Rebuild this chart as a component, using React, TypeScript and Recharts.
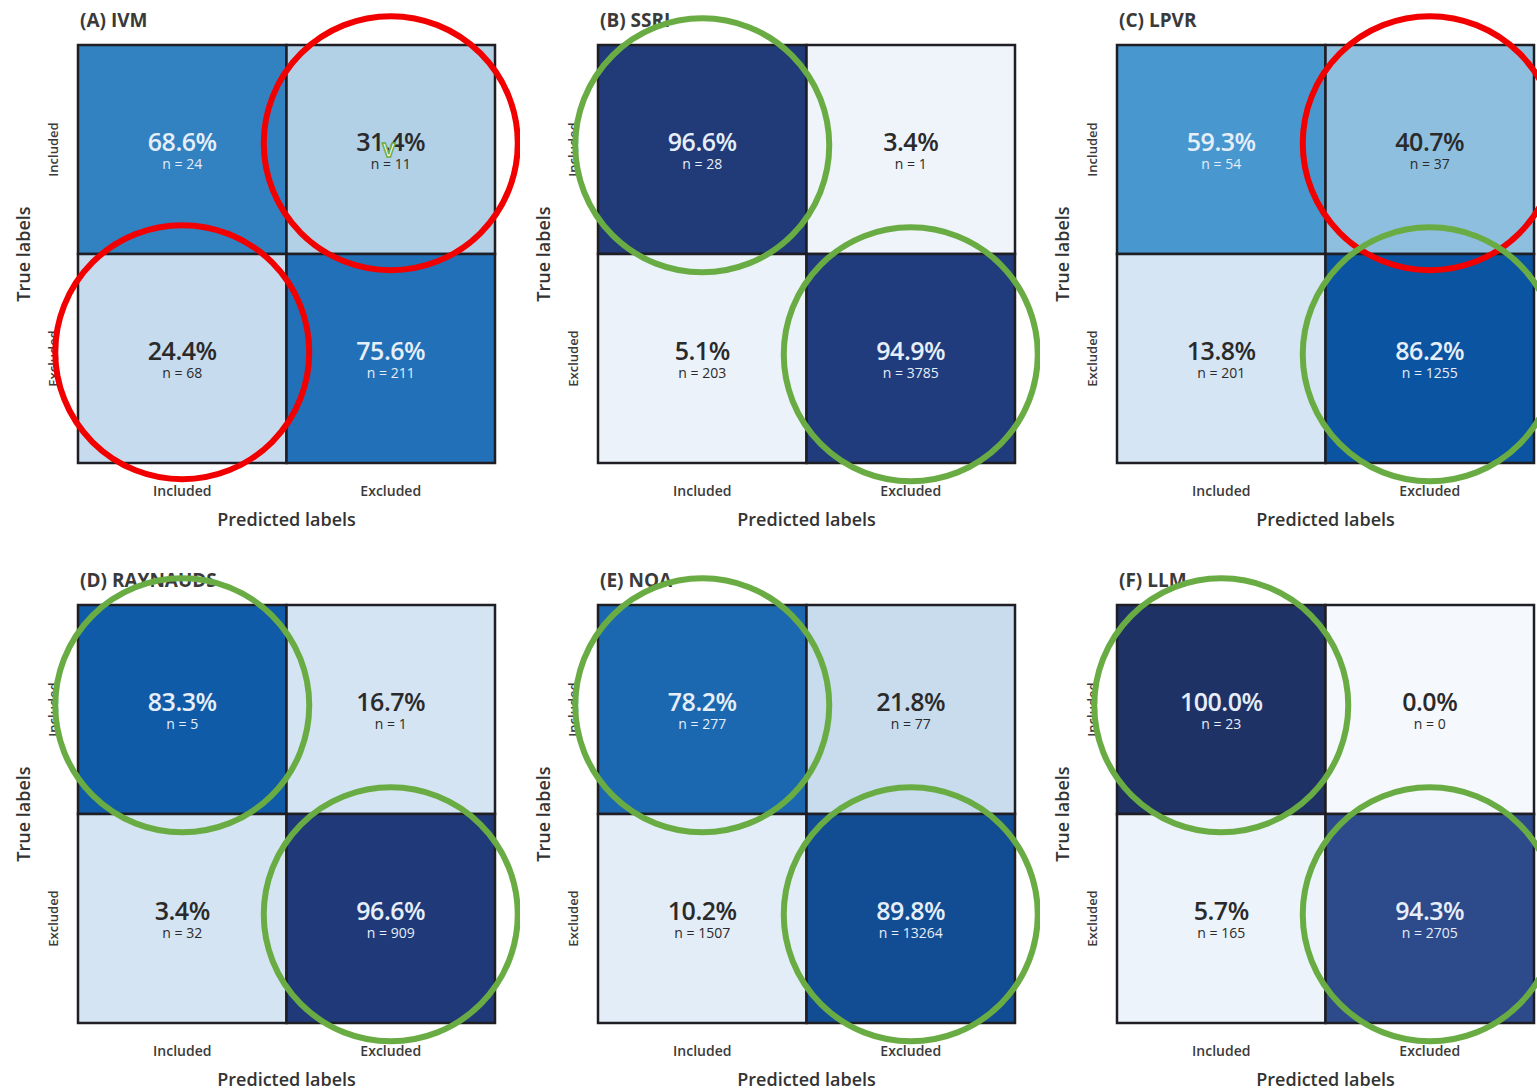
import React from 'react';
import { ComposedChart, XAxis, YAxis, ReferenceArea, ReferenceDot, Scatter, Label } from 'recharts';

const titles = ['(A) IVM', '(B) SSRI', '(C) LPVR', '(D) RAYNAUDS', '(E) NOA', '(F) LLM'];
const classLabels = ['Included', 'Excluded'];

// cells in order: [true Incl/pred Incl, true Incl/pred Excl, true Excl/pred Incl, true Excl/pred Excl]
const percents = [
  [68.6, 31.4, 24.4, 75.6],
  [96.6, 3.4, 5.1, 94.9],
  [59.3, 40.7, 13.8, 86.2],
  [83.3, 16.7, 3.4, 96.6],
  [78.2, 21.8, 10.2, 89.8],
  [100.0, 0.0, 5.7, 94.3],
];
const counts = [
  [24, 11, 68, 211],
  [28, 1, 203, 3785],
  [54, 37, 201, 1255],
  [5, 1, 32, 909],
  [277, 77, 1507, 13264],
  [23, 0, 165, 2705],
];

// hand-drawn annotations on top of the figure
const flaggedCells = [[1, 2], [], [1], [], [], []];
const confirmedCells = [[], [0, 3], [3], [0, 3], [0, 3], [0, 3]];
const checkedCells = [[1], [], [], [], [], []];

const cellFills = [
  ['#3282c2', '#b2d0e6', '#c7dbee', '#2270b8'],
  ['#213a78', '#eff4fa', '#ebf2fa', '#213c7c'],
  ['#4897cf', '#8fbfdf', '#d6e5f3', '#0b54a2'],
  ['#0f5ba8', '#d4e4f2', '#d5e4f2', '#203a79'],
  ['#1b68b0', '#c8dcee', '#e3edf7', '#124d94'],
  ['#1f3266', '#f5f8fc', '#ecf3fa', '#2d4a8b'],
];

const FONT = '"Open Sans", "Noto Sans", sans-serif';
const W = 520;
const H = 545;
const colLeft = [0, 520, 1039];
const rowTop = [0, 560];

const cellsFor = (p: number) =>
  percents[p].map((pct, i) => ({
    x: (i % 2) + 0.5,
    y: Math.floor(i / 2) + 0.5,
    col: i % 2,
    row: Math.floor(i / 2),
    pct,
    n: counts[p][i],
    fill: cellFills[p][i],
    checked: checkedCells[p].includes(i),
  }));

const CellText = (props: any) => {
  const { cx, cy, payload } = props;
  const c = payload.pct > 50 ? '#e6eef9' : '#2a2a2a';
  return (
    <g>
      <text x={cx} y={cy - 9} textAnchor="middle" dominantBaseline="central" fontSize={25} fontWeight={600} fill={c} fontFamily={FONT} letterSpacing={-0.5}>
        {payload.pct.toFixed(1)}%
      </text>
      <text x={cx} y={cy + 14} textAnchor="middle" dominantBaseline="central" fontSize={14} fill={c} fontFamily={FONT}>
        n = {payload.n}
      </text>
      {payload.checked && (
        <text x={cx - 2} y={cy} textAnchor="middle" dominantBaseline="central" fontSize={20} fontWeight={700} fill="#ffffff" stroke="#6aac44" strokeWidth={1.5} fontFamily={FONT}>
          V
        </text>
      )}
    </g>
  );
};

const YTick = ({ x, y, payload }: any) => (
  <text x={x} y={y} transform={`rotate(-90, ${x}, ${y})`} textAnchor="middle" dominantBaseline="central" fontSize={13} fontWeight={600} fill="#3a3a3a" fontFamily={FONT}>
    {classLabels[Math.floor(payload.value)]}
  </text>
);

const XTick = ({ x, y, payload }: any) => (
  <text x={x} y={y} textAnchor="middle" dominantBaseline="central" fontSize={14} fontWeight={600} fill="#3a3a3a" fontFamily={FONT}>
    {classLabels[Math.floor(payload.value)]}
  </text>
);

const margin = { top: 45, right: 25, left: 0, bottom: 0 };

function Panel({ p }: { p: number }) {
  const cells = cellsFor(p);
  const left = colLeft[p % 3];
  const top = rowTop[Math.floor(p / 3)];
  return (
    <div style={{ position: 'absolute', left, top, width: W, height: H }}>
      <div style={{ position: 'absolute', left: 80, top: 8, fontFamily: FONT, fontWeight: 700, fontSize: 19, color: '#3a3a3a', lineHeight: '24px' }}>
        {titles[p]}
      </div>
      <div style={{ position: 'absolute', left: 0, top: 0 }}>
        <ComposedChart width={W} height={H} margin={margin}>
          <XAxis
            type="number"
            dataKey="x"
            domain={[0, 2]}
            ticks={[0.5, 1.5]}
            axisLine={false}
            tickLine={false}
            tickSize={0}
            tickMargin={27}
            height={82}
            tick={<XTick />}
          >
            <Label
              content={(props: any) => {
                const vb = props.viewBox ?? { x: 78, y: 463, width: 417, height: 82 };
                return (
                  <text x={vb.x + vb.width / 2} y={vb.y + 56} textAnchor="middle" dominantBaseline="central" fontSize={18} fontWeight={600} fill="#333" fontFamily={FONT}>
                    Predicted labels
                  </text>
                );
              }}
            />
          </XAxis>
          <YAxis
            type="number"
            dataKey="y"
            domain={[0, 2]}
            reversed
            ticks={[0.5, 1.5]}
            axisLine={false}
            tickLine={false}
            tickSize={0}
            tickMargin={25}
            width={78}
            tick={<YTick />}
          >
            <Label
              content={(props: any) => {
                const vb = props.viewBox ?? { x: 0, y: 45, width: 78, height: 418 };
                const lx = vb.x + 23;
                const ly = vb.y + vb.height / 2;
                return (
                  <text x={lx} y={ly} transform={`rotate(-90, ${lx}, ${ly})`} textAnchor="middle" dominantBaseline="central" fontSize={18} fontWeight={600} fill="#333" fontFamily={FONT}>
                    True labels
                  </text>
                );
              }}
            />
          </YAxis>
          {cells.map((c, i) => (
            <ReferenceArea
              key={`a${i}`}
              x1={c.col}
              x2={c.col + 1}
              y1={c.row}
              y2={c.row + 1}
              fill={c.fill}
              fillOpacity={1}
              stroke="#1e1e24"
              strokeWidth={2.5}
              strokeOpacity={1}
              ifOverflow="visible"
            />
          ))}
          <Scatter data={cells} dataKey="y" shape={<CellText />} isAnimationActive={false} />
        </ComposedChart>
      </div>
      {/* annotation overlay: same plot box, drawn above titles and tick labels */}
      <div style={{ position: 'absolute', left: 0, top: 0, pointerEvents: 'none' }}>
        <ComposedChart width={W} height={H} margin={{ top: 45, right: 25, left: 78, bottom: 82 }}>
          <XAxis type="number" dataKey="x" domain={[0, 2]} hide />
          <YAxis type="number" dataKey="y" domain={[0, 2]} reversed hide />
          <Scatter data={cells} dataKey="y" shape={() => <g />} isAnimationActive={false} />
          {flaggedCells[p].map((i) => (
            <ReferenceDot key={`r${i}`} x={cells[i].x} y={cells[i].y - 0.03} r={127} fill="none" stroke="#f20000" strokeWidth={6} ifOverflow="visible" />
          ))}
          {confirmedCells[p].map((i) => (
            <ReferenceDot key={`g${i}`} x={cells[i].x} y={cells[i].y - 0.02} r={127} fill="none" stroke="#6aac44" strokeWidth={6} ifOverflow="visible" />
          ))}
        </ComposedChart>
      </div>
    </div>
  );
}

export default function App() {
  return (
    <div style={{ position: 'absolute', left: 0, top: 0, width: 1537, height: 1088, overflow: 'hidden', background: '#fff' }}>
      {titles.map((_, p) => (
        <Panel key={p} p={p} />
      ))}
    </div>
  );
}
